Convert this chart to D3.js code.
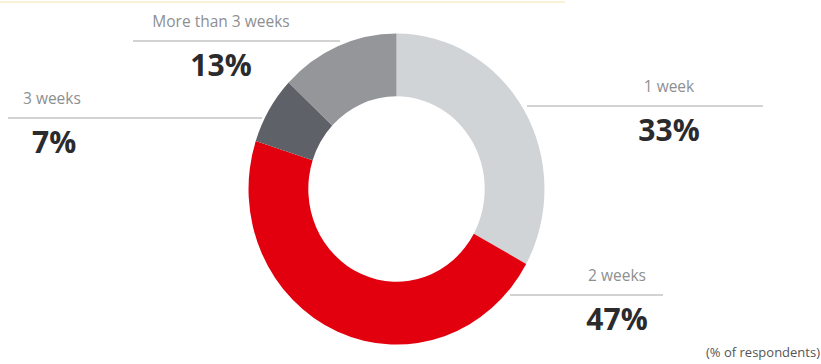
<!DOCTYPE html>
<html>
<head>
<meta charset="utf-8">
<script src="https://cdn.jsdelivr.net/npm/d3@7"></script>
<style>
  body { margin: 0; background: #fff; }
  text { font-family: "Open Sans", "Lato", sans-serif; }
</style>
</head>
<body>
<div id="chart"></div>
<script>
// Data
var categories = ["1 week", "2 weeks", "3 weeks", "More than 3 weeks"];
var values = [33, 47, 7, 13];
var colors = ["#d1d4d7", "#e2000f", "#5e6167", "#949699"];
var note = "(% of respondents)";

// workspace
var svgWidth = 821;
var svgHeight = 364;

var svg = d3.select("#chart")
  .append("svg")
  .attr("width", svgWidth)
  .attr("height", svgHeight);

// faint rule along the top edge
svg.append("line")
  .attr("x1", 0).attr("x2", 565)
  .attr("y1", 2).attr("y2", 2)
  .attr("stroke", "#fbf1d6")
  .attr("stroke-width", 2);

// label placement (hand placed like the original)
// line from x1 to x2 at y, text centred at tx
var labelLayout = {
  "1 week":            { x1: 527, x2: 763, y: 106, tx: 669, anchor: "middle" },
  "2 weeks":           { x1: 510, x2: 663, y: 295, tx: 617, anchor: "middle" },
  "3 weeks":           { x1: 8,   x2: 262, y: 118, tx: 23,  px: 32, anchor: "start" },
  "More than 3 weeks": { x1: 133, x2: 340, y: 41,  tx: 221, anchor: "middle" }
};

var data = categories.map((c, i) => ({ label: c, value: values[i] }));

var color = d3.scaleOrdinal()
  .domain(categories)
  .range(colors);

// leader lines drawn first so the ring sits on top
var labels = svg.append("g");

data.forEach(d => {
  var l = labelLayout[d.label];
  labels.append("line")
    .attr("x1", l.x1).attr("x2", l.x2)
    .attr("y1", l.y).attr("y2", l.y)
    .attr("stroke", "#a4a6a8")
    .attr("stroke-width", 1);

  labels.append("text")
    .attr("x", l.tx)
    .attr("y", l.y - 14)
    .attr("text-anchor", l.anchor)
    .attr("font-family", "Lato, sans-serif")
    .attr("font-size", "15.5px")
    .attr("fill", "#8d8f91")
    .text(d.label);

  labels.append("text")
    .attr("x", l.px || l.tx)
    .attr("y", l.y + 35)
    .attr("text-anchor", l.anchor)
    .attr("font-size", "30px")
    .attr("font-weight", "bold")
    .attr("fill", "#2b2b2d")
    .text(d.value + "%");
});

// donut
var pie = d3.pie()
  .sort(null)
  .value(d => d.value);

var arc = d3.arc()
  .innerRadius(90)
  .outerRadius(151);

var ring = svg.append("g")
  .attr("transform", "translate(396.5, 189) scale(0.98, 1.03)");

ring.selectAll("path")
  .data(pie(data))
  .enter()
  .append("path")
  .attr("d", arc)
  .attr("fill", d => color(d.data.label));

// footnote
svg.append("text")
  .attr("x", 820)
  .attr("y", 357)
  .attr("text-anchor", "end")
  .attr("font-family", "Lato, sans-serif")
  .attr("font-size", "13px")
  .attr("fill", "#555")
  .text(note);
</script>
</body>
</html>
